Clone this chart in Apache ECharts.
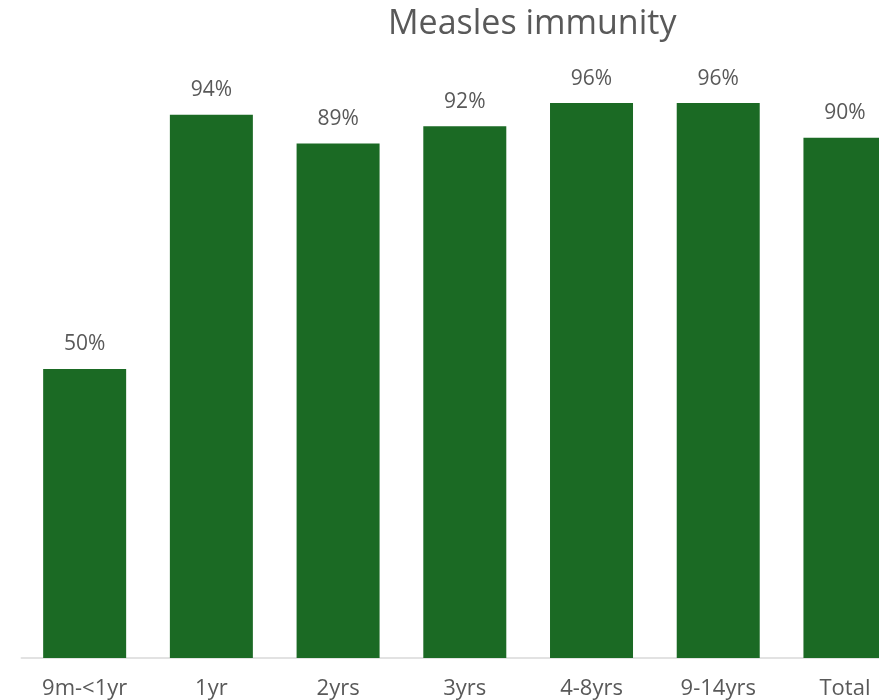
<!DOCTYPE html>
<html>
<head>
<meta charset="utf-8">
<style>
  html, body { margin: 0; padding: 0; background: #ffffff; overflow: hidden; }
  /* the drawing runs past the right edge of the window; the last bar is clipped */
  #chart { width: 910px; height: 700px; }
</style>
<script src="https://cdn.jsdelivr.net/npm/echarts@6/dist/echarts.min.js"></script>
</head>
<body>
<div id="chart"></div>
<script>
// Share of each age group with measles immunity (percent)
const ageGroups = ['9m-<1yr', '1yr', '2yrs', '3yrs', '4-8yrs', '9-14yrs', 'Total'];
const immunityPct = [50, 94, 89, 92, 96, 96, 90];

const textColor = '#595959';
const fontFamily = 'Open Sans, Liberation Sans, Arial, sans-serif';

const chart = echarts.init(document.getElementById('chart'), null, { renderer: 'canvas' });

chart.setOption({
  backgroundColor: '#ffffff',
  animation: false,
  title: {
    text: 'Measles immunity',
    left: 383,
    top: 2,
    textStyle: {
      color: textColor,
      fontFamily: fontFamily,
      fontSize: 34,
      fontWeight: 'normal'
    }
  },
  grid: {
    left: 21.3,
    top: 80,
    width: 887,
    height: 578,
    containLabel: false
  },
  xAxis: {
    type: 'category',
    data: ageGroups,
    axisLine: { show: true, lineStyle: { color: '#d9d9d9', width: 1.5 } },
    axisTick: { show: false },
    axisLabel: {
      color: textColor,
      fontFamily: fontFamily,
      fontSize: 22,
      margin: 20,
      interval: 0
    }
  },
  yAxis: {
    type: 'value',
    min: 0,
    max: 100,
    show: false,
    splitLine: { show: false }
  },
  series: [{
    type: 'bar',
    data: immunityPct,
    barCategoryGap: '34.5%',
    itemStyle: { color: '#1b6a24' },
    label: {
      show: true,
      position: 'top',
      distance: 14,
      color: textColor,
      fontFamily: fontFamily,
      fontSize: 21,
      formatter: p => p.value + '%'
    }
  }]
});
</script>
</body>
</html>
